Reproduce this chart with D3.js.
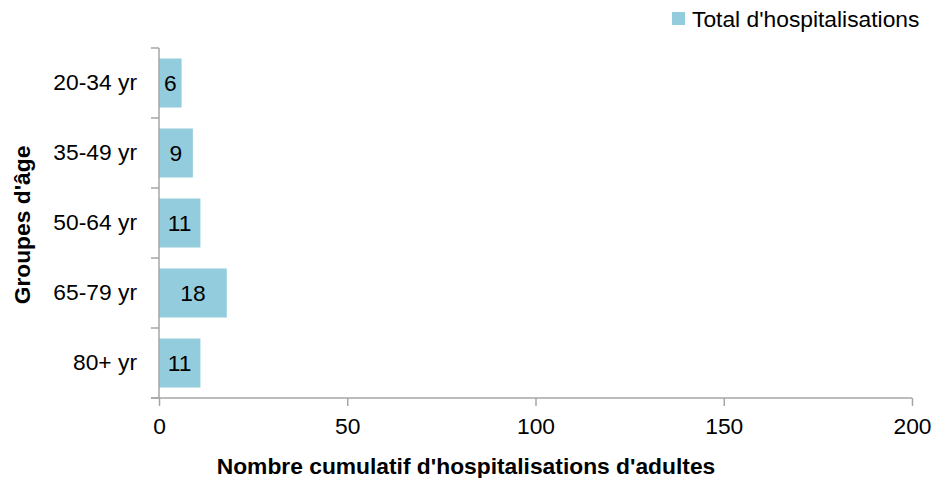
<!DOCTYPE html>
<html>
<head>
<meta charset="utf-8">
<script src="https://cdn.jsdelivr.net/npm/d3@7"></script>
<style>
  body { margin: 0; background: #fff; }
  svg { display: block; font-family: "Liberation Sans", Arial, sans-serif; }
</style>
</head>
<body>
<svg id="chart" width="933" height="478"></svg>
<script>
// --- DATA ---
const categories = ["20-34 yr", "35-49 yr", "50-64 yr", "65-79 yr", "80+ yr"];
const values = [6, 9, 11, 18, 11];
const xTicks = [0, 50, 100, 150, 200];
const seriesName = "Total d'hospitalisations";
const xTitle = "Nombre cumulatif d'hospitalisations d'adultes";
const yTitle = "Groupes d'âge";

// --- LAYOUT ---
const W = 933, H = 478;
const plot = { left: 159, right: 912, top: 48, bottom: 398 };
const BAR_COLOR = "#93cddd";
const AXIS_COLOR = "#a6a6a6";
const FS = "22.8px";

const svg = d3.select("#chart");

const x = d3.scaleLinear().domain([0, 200]).range([plot.left, plot.right]);
const y = d3.scaleBand().domain(categories)
  .range([plot.top, plot.bottom])
  .paddingInner(0.3).paddingOuter(0.15);

// bars
svg.append("g").selectAll("rect").data(values).enter().append("rect")
  .attr("x", x(0))
  .attr("y", (d, i) => y(categories[i]))
  .attr("width", d => x(d) - x(0))
  .attr("height", y.bandwidth())
  .attr("fill", BAR_COLOR);

// value labels
svg.append("g").selectAll("text").data(values).enter().append("text")
  .attr("x", d => (x(d) + x(0)) / 2)
  .attr("y", (d, i) => y(categories[i]) + y.bandwidth() / 2)
  .attr("dy", "0.36em")
  .attr("text-anchor", "middle")
  .style("font-size", FS)
  .attr("fill", "#000")
  .text(d => d);

// y axis: line + ticks at band boundaries
const yAxisG = svg.append("g");
yAxisG.append("line")
  .attr("x1", plot.left).attr("x2", plot.left)
  .attr("y1", plot.top).attr("y2", plot.bottom)
  .attr("stroke", AXIS_COLOR).attr("stroke-width", 1.5);
d3.range(categories.length + 1).forEach(i => {
  const yy = plot.top + i * y.step();
  yAxisG.append("line")
    .attr("x1", plot.left - 8).attr("x2", plot.left)
    .attr("y1", yy).attr("y2", yy)
    .attr("stroke", AXIS_COLOR).attr("stroke-width", 1.5);
});

// y labels
const yLab = svg.append("g")
  .attr("transform", `translate(${plot.left},0)`)
  .call(d3.axisLeft(y).tickSize(0).tickPadding(22));
yLab.select(".domain").remove();
yLab.selectAll("text")
  .style("font-size", FS)
  .style("font-family", "Liberation Sans, Arial, sans-serif")
  .attr("fill", "#000");

// x axis
const xAxisG = svg.append("g")
  .attr("transform", `translate(0,${plot.bottom})`)
  .call(d3.axisBottom(x).tickValues(xTicks).tickSize(8).tickSizeOuter(0).tickPadding(12));
xAxisG.select(".domain").remove();
xAxisG.append("line")
  .attr("x1", plot.left - 8).attr("x2", plot.right)
  .attr("y1", 0).attr("y2", 0)
  .attr("stroke", AXIS_COLOR).attr("stroke-width", 1.5);
xAxisG.selectAll(".tick line").attr("stroke", AXIS_COLOR).attr("stroke-width", 1.5);
xAxisG.selectAll("text")
  .style("font-size", FS)
  .style("font-family", "Liberation Sans, Arial, sans-serif")
  .attr("fill", "#000");

// axis titles
svg.append("text")
  .attr("x", 466)
  .attr("y", 474)
  .attr("text-anchor", "middle")
  .style("font-size", FS)
  .style("font-weight", "bold")
  .attr("fill", "#000")
  .text(xTitle);

svg.append("text")
  .attr("transform", `translate(30,225) rotate(-90)`)
  .attr("text-anchor", "middle")
  .style("font-size", FS)
  .style("font-weight", "bold")
  .attr("fill", "#000")
  .text(yTitle);

// legend
const leg = svg.append("g").attr("transform", "translate(672,12)");
leg.append("rect").attr("width", 13).attr("height", 13).attr("fill", BAR_COLOR);
leg.append("text")
  .attr("x", 20).attr("y", 15)
  .style("font-size", FS)
  .attr("fill", "#000")
  .text(seriesName);
</script>
</body>
</html>
